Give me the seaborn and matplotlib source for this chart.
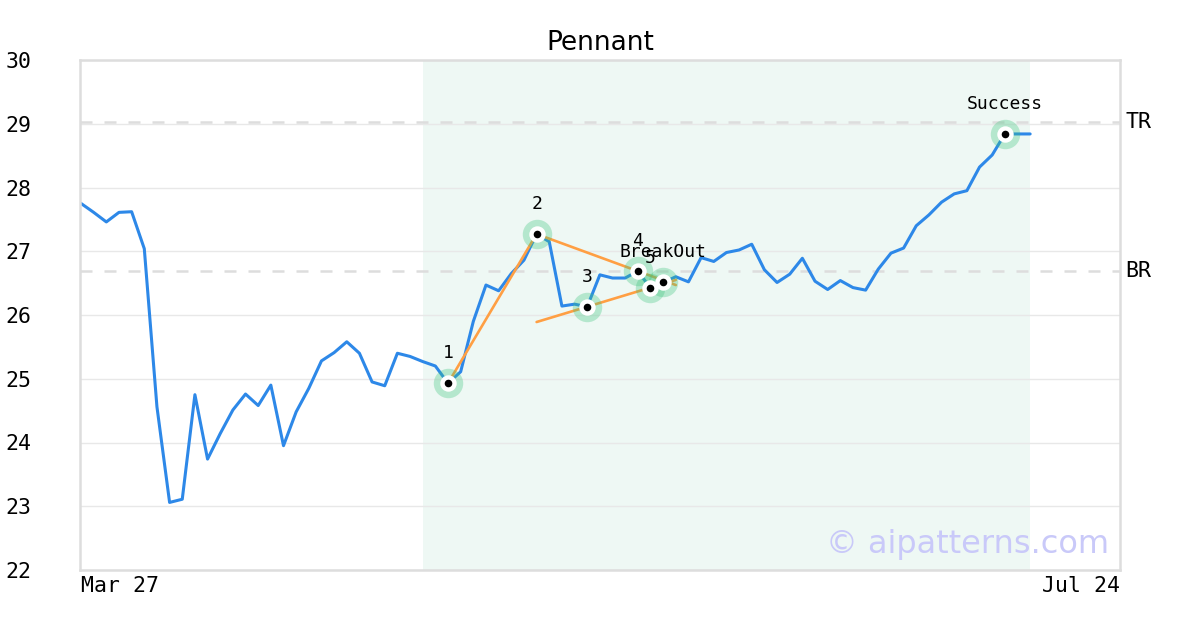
import numpy as np
import pandas as pd
import seaborn as sns
import matplotlib.pyplot as plt

# closing prices, one per trading day (index 0 = Mar 27)
prices = [27.75, 27.61, 27.46, 27.61, 27.62, 27.04, 24.56, 23.06, 23.11, 24.75,
          23.74, 24.14, 24.51, 24.76, 24.58, 24.90, 23.95, 24.48, 24.85, 25.28,
          25.41, 25.58, 25.40, 24.95, 24.89, 25.40, 25.35, 25.27, 25.20, 24.93,
          25.11, 25.90, 26.47, 26.38, 26.65, 26.86, 27.27, 27.15, 26.14, 26.17,
          26.13, 26.63, 26.58, 26.58, 26.69, 26.42, 26.51, 26.60, 26.52, 26.90,
          26.84, 26.98, 27.02, 27.11, 26.71, 26.51, 26.64, 26.89, 26.53, 26.40,
          26.54, 26.43, 26.39, 26.72, 26.97, 27.05, 27.40, 27.57, 27.77, 27.90,
          27.95, 28.32, 28.51, 28.84, 28.84, 28.84]
date_labels = ["Mar 27", "Jul 24"]
x_end = 82.1

# pattern pivots
pivot_idx = [29, 36, 40, 44, 45, 46, 73]
pivot_labels = ["1", "2", "3", "4", "5", "BreakOut", "Success"]

# trend lines (start idx, start val, end idx, end val)
leg_line = (29, 24.93, 36, 27.27)
upper_line = (36, 27.27, 47, 26.47)
lower_line = (36, 25.89, 47, 26.55)

tr_level = 29.02
br_level = 26.69
shade_start, shade_end = 27, 75

df = pd.DataFrame({"idx": np.arange(len(prices)), "price": prices})

sns.set_style("white")
plt.rcParams["font.family"] = ["DejaVu Sans"]
plt.rcParams["text.color"] = "black"
plt.rcParams["xtick.color"] = "black"
plt.rcParams["ytick.color"] = "black"
plt.rcParams["axes.titlecolor"] = "black"
mono = "DejaVu Sans Mono"

fig = plt.figure(figsize=(12, 6.3), dpi=100)
ax = fig.add_axes([80 / 1200, 60 / 630, 1040 / 1200, 510 / 630])

ax.axvspan(shade_start, shade_end, color="#eef8f4", lw=0, zorder=0)
ax.set_yticks(range(22, 31))
ax.grid(axis="y", color="#e8e8e8", lw=1, zorder=0.5)

for lvl in (tr_level, br_level):
    ax.axhline(lvl, color="#dddddd", lw=1.8, dashes=(4.8, 4.8), zorder=1)

sns.lineplot(data=df, x="idx", y="price", color="#2d88e8", lw=2.2, ax=ax, zorder=2)

for x0, y0, x1, y1 in (leg_line, upper_line, lower_line):
    ax.plot([x0, x1], [y0, y1], color="#ff9f43", lw=1.9, zorder=3)

px = np.array(pivot_idx)
py = np.array([prices[i] for i in pivot_idx])
ax.scatter(px, py, s=450, color="#3cc47c", alpha=0.32, lw=0, zorder=4)
ax.scatter(px, py, s=140, color="white", lw=0, zorder=5)
ax.scatter(px, py, s=30, color="black", lw=0, zorder=6)
for x, y, lab in zip(px, py, pivot_labels):
    ax.annotate(lab, (x, y), xytext=(0, 18), textcoords="offset points",
                ha="center", va="baseline", fontsize=13, family=mono,
                color="black", zorder=7)

ax.set_xlim(-0.08, x_end)
ax.set_ylim(22, 30)
ax.set_xticks([0, x_end])
ax.set_xticklabels(date_labels, family=mono, fontsize=15.5)
xl = ax.get_xticklabels()
xl[0].set_ha("left")
xl[1].set_ha("right")
ax.set_yticklabels([str(v) for v in range(22, 31)], family=mono, fontsize=15.5)
ax.tick_params(axis="y", length=0, pad=35)
ax.tick_params(axis="x", length=0, pad=4)
ax.set_xlabel("")
ax.set_ylabel("")

trans = ax.get_yaxis_transform()
ax.text(1.005, tr_level, "TR", transform=trans, ha="left", va="center",
        family=mono, fontsize=15.5, color="black")
ax.text(1.005, br_level, "BR", transform=trans, ha="left", va="center",
        family=mono, fontsize=15.5, color="black")

for sp in ax.spines.values():
    sp.set_color("#dddddd")
    sp.set_linewidth(1.8)

ax.set_title("Pennant", fontsize=19, pad=7, color="black")
ax.text(0.99, 0.033, "\u00a9 aipatterns.com", transform=ax.transAxes,
        ha="right", va="baseline", fontsize=23, color="#c9c9f9", zorder=8)

fig.savefig("out.png", dpi=100)
